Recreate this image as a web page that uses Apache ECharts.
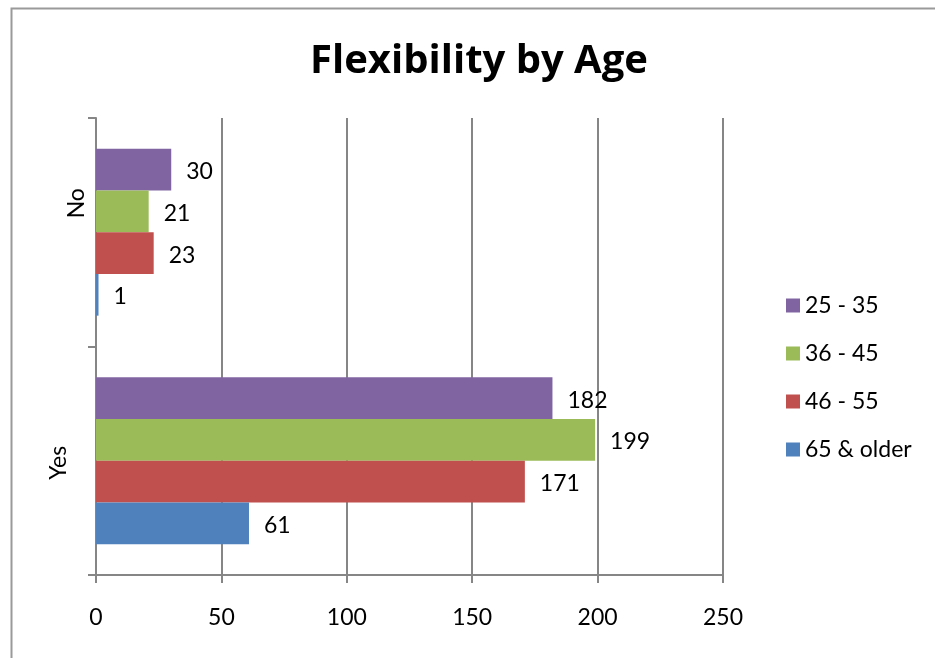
<!DOCTYPE html>
<html>
<head>
<meta charset="utf-8">
<script src="https://cdn.jsdelivr.net/npm/echarts@6/dist/echarts.min.js"></script>
<style>html,body{margin:0;padding:0;background:#fff}#c{width:935px;height:658px}</style>
</head>
<body>
<div id="c"></div>
<script>
var categories = ['Yes', 'No'];
var seriesNames = ['25 - 35', '36 - 45', '46 - 55', '65 & older'];
var v25_35 = [182, 30];
var v36_45 = [199, 21];
var v46_55 = [171, 23];
var v65_older = [61, 1];
var xTicks = {min: 0, max: 250, interval: 50};
var colors = ['#8064A2', '#9BBB59', '#C0504D', '#4F81BD'];
var seriesValues = [v25_35, v36_45, v46_55, v65_older];

var FONT = 'Lato';
var chart = echarts.init(document.getElementById('c'), null, {renderer: 'canvas'});
var series = seriesNames.map(function (n, i) {
  return {
    name: n,
    type: 'bar',
    data: seriesValues[i],
    barGap: '0%',
    barCategoryGap: '27%',
    itemStyle: {color: colors[i]},
    label: {show: true, position: 'right', distance: 15, offset: [0, 2], color: '#000', fontFamily: FONT, fontSize: 23}
  };
});
chart.setOption({
  animation: false,
  color: colors,
  title: {
    text: 'Flexibility by Age',
    left: 474, top: 37, textAlign: 'center',
    textStyle: {fontFamily: 'Open Sans', fontWeight: 'bold', fontSize: 40, color: '#000'}
  },
  legend: {
    data: seriesNames,
    orient: 'vertical',
    left: 781, top: 289,
    icon: 'rect', itemWidth: 14, itemHeight: 14, itemGap: 25, itemTextGap: 7,
    textStyle: {fontFamily: FONT, fontSize: 23, color: '#000', lineHeight: 23}
  },
  grid: {left: 96, top: 118, right: 212, bottom: 83, containLabel: false},
  xAxis: {
    type: 'value', min: xTicks.min, max: xTicks.max, interval: xTicks.interval,
    axisLine: {show: true, lineStyle: {color: '#868686', width: 2}},
    axisTick: {show: true, inside: false, length: 8, lineStyle: {color: '#868686', width: 2}},
    splitLine: {show: true, lineStyle: {color: '#868686', width: 2}},
    axisLabel: {fontFamily: FONT, fontSize: 23, color: '#000', margin: 31}
  },
  yAxis: {
    type: 'category', data: categories,
    axisLine: {show: true, lineStyle: {color: '#868686', width: 2}},
    axisTick: {show: true, length: 8, lineStyle: {color: '#868686', width: 2}},
    axisLabel: {
      rotate: 90, margin: 8, fontFamily: FONT, fontSize: 23, color: '#000',
      formatter: function (v) { return v === 'No' ? '{no|No}' : '{yes|Yes}'; },
      rich: {
        no: {fontFamily: FONT, fontSize: 23, color: '#000', padding: [0, 0, 0, 58]},
        yes: {fontFamily: FONT, fontSize: 23, color: '#000', padding: [0, 4, 18, 0]}
      }
    }
  },
  graphic: [{
    type: 'rect', left: 9, top: 6, silent: true, z: -1,
    shape: {width: 1000, height: 1000},
    style: {fill: 'none', stroke: '#9a9a9a', lineWidth: 2}
  }],
  series: series
});
</script>
</body>
</html>
